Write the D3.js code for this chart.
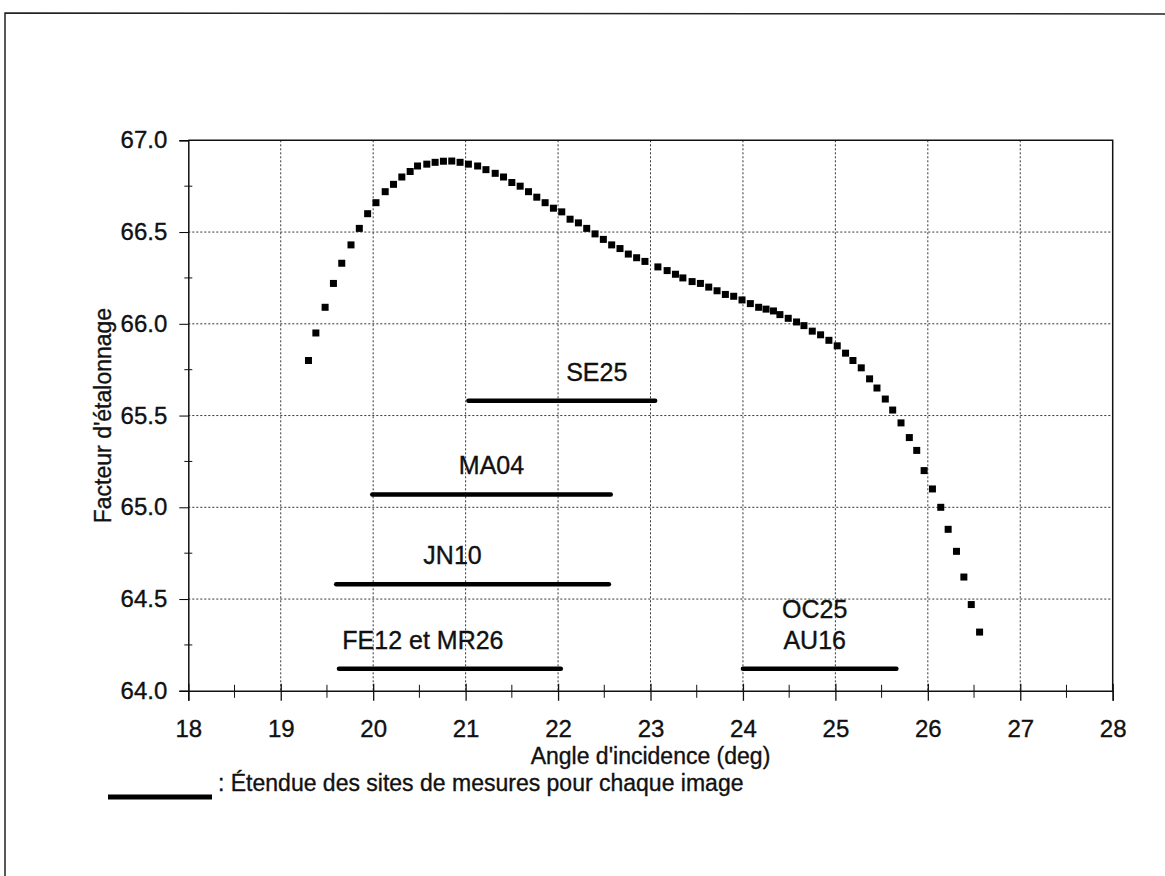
<!DOCTYPE html>
<html>
<head>
<meta charset="utf-8">
<script src="https://cdn.jsdelivr.net/npm/d3@7"></script>
<style>
  body { margin: 0; background: #fff; }
  text { font-family: "Liberation Sans", Arial, sans-serif; fill: #111; stroke: #111; stroke-width: 0.35px; }
</style>
</head>
<body>
<div id="chart"></div>
<script>
// calibration factor vs incidence angle
var angles = [19.30, 19.38, 19.48, 19.57, 19.66, 19.76, 19.85, 19.94, 20.03, 20.13,
  20.22, 20.31, 20.40, 20.48, 20.58, 20.67, 20.76, 20.85, 20.94, 21.03,
  21.13, 21.22, 21.32, 21.41, 21.50, 21.59, 21.68, 21.77, 21.86, 21.95,
  22.04, 22.13, 22.22, 22.31, 22.40, 22.49, 22.58, 22.67, 22.76, 22.85,
  22.94, 23.08, 23.18, 23.27, 23.35, 23.45, 23.54, 23.63, 23.72, 23.81,
  23.90, 23.99, 24.08, 24.17, 24.25, 24.33, 24.40, 24.49, 24.58, 24.66,
  24.75, 24.84, 24.93, 25.02, 25.11, 25.19, 25.28, 25.37, 25.45, 25.54,
  25.62, 25.71, 25.80, 25.88, 25.96, 26.05, 26.14, 26.22, 26.31, 26.39,
  26.47, 26.56];
var facteur = [65.80, 65.95, 66.09, 66.22, 66.33, 66.43, 66.52, 66.60, 66.66, 66.72,
  66.76, 66.80, 66.83, 66.86, 66.87, 66.88, 66.886, 66.887, 66.88, 66.87,
  66.86, 66.84, 66.82, 66.80, 66.77, 66.75, 66.72, 66.69, 66.66, 66.63,
  66.61, 66.57, 66.55, 66.52, 66.49, 66.46, 66.43, 66.41, 66.38, 66.36,
  66.34, 66.31, 66.29, 66.27, 66.25, 66.23, 66.22, 66.20, 66.18, 66.16,
  66.15, 66.13, 66.11, 66.09, 66.08, 66.07, 66.05, 66.03, 66.01, 65.99,
  65.96, 65.94, 65.91, 65.88, 65.84, 65.80, 65.76, 65.70, 65.65, 65.59,
  65.53, 65.46, 65.38, 65.31, 65.20, 65.10, 65.00, 64.88, 64.76, 64.62,
  64.47, 64.32];

// extent of measurement sites for each image
var siteNames = [["SE25"], ["MA04"], ["JN10"], ["FE12 et MR26"], ["OC25", "AU16"]];
var siteStart = [21.03, 19.99, 19.60, 19.63, 24.00];
var siteEnd = [23.05, 22.57, 22.55, 22.03, 25.66];
var siteLevel = [65.58, 65.07, 64.58, 64.12, 64.12];

var xTicks = [18, 19, 20, 21, 22, 23, 24, 25, 26, 27, 28];
var yTicks = [64.0, 64.5, 65.0, 65.5, 66.0, 66.5, 67.0];
var xMinor = [18.5, 19.5, 20.5, 21.5, 22.5, 23.5, 24.5, 25.5, 26.5, 27.5];
var yMinor = [64.25, 64.75, 65.25, 65.75, 66.25, 66.75];

var xTitle = "Angle d'incidence (deg)";
var yTitle = "Facteur d'étalonnage";
var legendText = ": Étendue des sites de mesures pour chaque image";

var W = 1165, H = 876;
var margin = { top: 140.3, left: 188.3 };
var width = 924.4, height = 550.5;

var svg = d3.select("#chart").append("svg")
    .attr("width", W)
    .attr("height", H);

svg.append("rect").attr("width", W).attr("height", H).attr("fill", "#fff");

// outer frame of the scanned page (only top and left edges visible)
svg.append("path")
    .attr("d", "M5," + H + " L5,13 L" + W + ",14")
    .attr("fill", "none")
    .attr("stroke", "#222")
    .attr("stroke-width", 1.5);

var g = svg.append("g")
    .attr("transform", "translate(" + margin.left + "," + margin.top + ")");

var x = d3.scaleLinear().domain([18, 28]).range([0, width]);
var y = d3.scaleLinear().domain([64, 67]).range([height, 0]);

// dotted grid
g.selectAll(".vgrid")
    .data(xTicks.slice(1, -1))
    .enter().append("line")
    .attr("x1", function(d) { return x(d); })
    .attr("x2", function(d) { return x(d); })
    .attr("y1", 0).attr("y2", height)
    .attr("stroke", "#333").attr("stroke-width", 1)
    .attr("stroke-dasharray", "2,2");
g.selectAll(".hgrid")
    .data(yTicks.slice(1, -1))
    .enter().append("line")
    .attr("x1", 0).attr("x2", width)
    .attr("y1", function(d) { return y(d); })
    .attr("y2", function(d) { return y(d); })
    .attr("stroke", "#333").attr("stroke-width", 1)
    .attr("stroke-dasharray", "2,2");

// top + right edges of plot area
g.append("path")
    .attr("d", "M0,0 L" + width + ",0 L" + width + "," + height)
    .attr("fill", "none").attr("stroke", "#111").attr("stroke-width", 1.5);

// y axis
var yAxis = g.append("g")
    .call(d3.axisLeft(y).tickValues(yTicks).tickFormat(d3.format(".1f")).tickSize(9).tickPadding(12));
yAxis.select(".domain").attr("stroke", "#111").attr("stroke-width", 1.5);
yAxis.selectAll("text").style("font-size", "24px").attr("fill", "#111");
g.selectAll(".yminor")
    .data(yMinor)
    .enter().append("line")
    .attr("x1", -4).attr("x2", 4)
    .attr("y1", function(d) { return y(d); })
    .attr("y2", function(d) { return y(d); })
    .attr("stroke", "#111");

// x axis
var xAxis = g.append("g")
    .attr("transform", "translate(0," + height + ")")
    .call(d3.axisBottom(x).tickValues(xTicks).tickSize(10).tickPadding(19));
xAxis.select(".domain").attr("stroke", "#111").attr("stroke-width", 1.5);
xAxis.selectAll(".tick line").attr("y1", -7).attr("stroke", "#111").attr("stroke-width", 1.3);
xAxis.selectAll("text").style("font-size", "24px").attr("fill", "#111");
g.selectAll(".xminor")
    .data(xMinor)
    .enter().append("line")
    .attr("x1", function(d) { return x(d); })
    .attr("x2", function(d) { return x(d); })
    .attr("y1", height - 6).attr("y2", height + 7)
    .attr("stroke", "#111");

// axis titles
g.append("text")
    .attr("x", width / 2)
    .attr("y", height + 73)
    .attr("text-anchor", "middle")
    .style("font-size", "23px")
    .text(xTitle);
g.append("text")
    .attr("transform", "translate(-77," + (height / 2) + ") rotate(-90)")
    .attr("text-anchor", "middle")
    .style("font-size", "23px")
    .text(yTitle);

// calibration curve: square markers
var pts = angles.map(function(a, i) { return { a: a, v: facteur[i] }; });
var ms = 7;
g.selectAll(".pt")
    .data(pts)
    .enter().append("rect")
    .attr("x", function(d) { return x(d.a) - ms / 2; })
    .attr("y", function(d) { return y(d.v) - ms / 2; })
    .attr("width", ms).attr("height", ms)
    .attr("fill", "#000");

// site extent bars + labels
var labelDx = [35, 0, -20, -27, -5];   // px shift of label vs bar centre
var sites = siteNames.map(function(n, i) {
    return { name: n, s: siteStart[i], e: siteEnd[i], v: siteLevel[i], dx: labelDx[i] };
});
g.selectAll(".bar")
    .data(sites)
    .enter().append("line")
    .attr("x1", function(d) { return x(d.s); })
    .attr("x2", function(d) { return x(d.e); })
    .attr("y1", function(d) { return y(d.v); })
    .attr("y2", function(d) { return y(d.v); })
    .attr("stroke", "#000").attr("stroke-width", 4.5)
    .attr("stroke-linecap", "round");
g.selectAll(".lab")
    .data(sites)
    .enter().append("text")
    .attr("text-anchor", "middle")
    .style("font-size", "25px")
    .attr("transform", function(d) {
        var cx = (x(d.s) + x(d.e)) / 2 + d.dx;
        var by = y(d.v) - 20 - (d.name.length - 1) * 31;
        return "translate(" + cx + "," + by + ")";
    })
    .selectAll("tspan")
    .data(function(d) { return d.name; })
    .enter().append("tspan")
    .attr("x", 0)
    .attr("dy", function(d, i) { return i ? 31 : 0; })
    .text(function(d) { return d; });

// legend
svg.append("line")
    .attr("x1", 108).attr("x2", 212)
    .attr("y1", 797).attr("y2", 797)
    .attr("stroke", "#000").attr("stroke-width", 5);
svg.append("text")
    .attr("x", 218).attr("y", 791)
    .style("font-size", "23px")
    .text(legendText);
</script>
</body>
</html>
